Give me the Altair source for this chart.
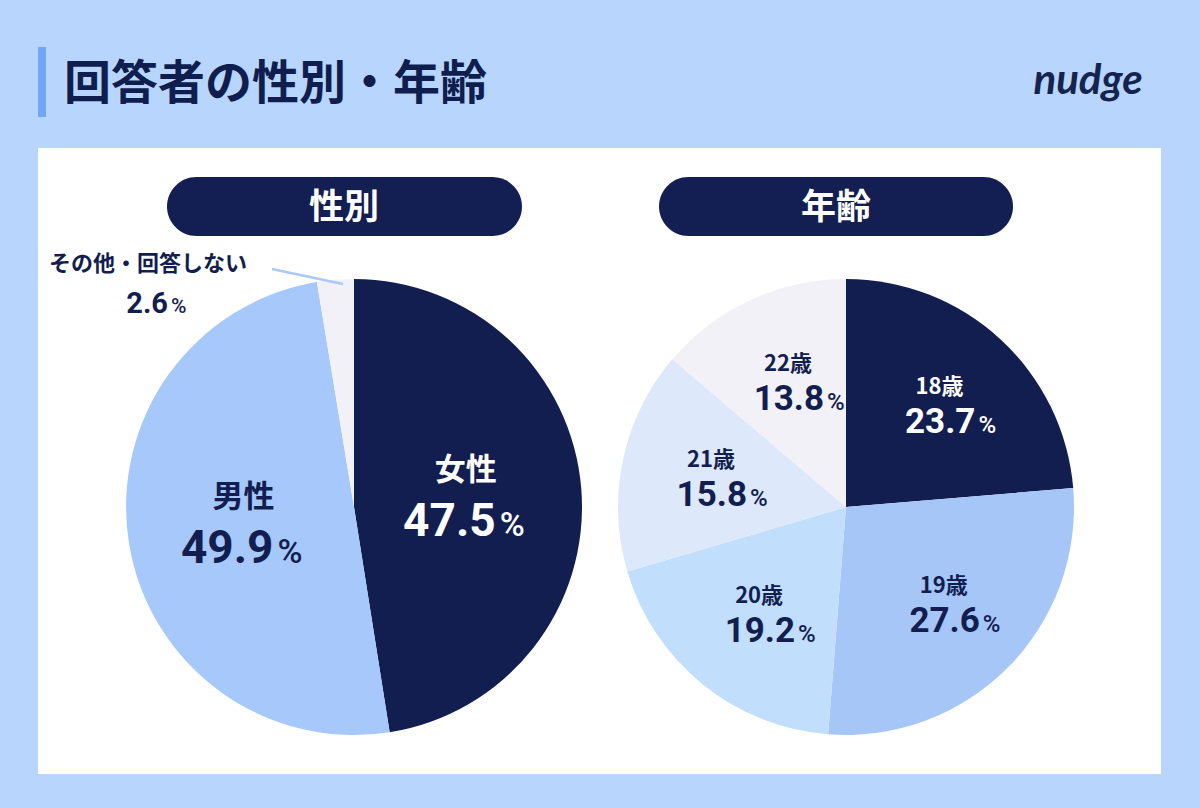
import altair as alt
import pandas as pd

# ---------------- data ----------------
title_text = "回答者の性別・年齢"
panel_titles = ["性別", "年齢"]
logo_text = "nudge"

gender_labels = ["女性", "男性", "その他・回答しない"]
gender_values = [47.5, 49.9, 2.6]
gender_colors = ["#121e50", "#a7c8fb", "#f3f1f8"]

age_labels = ["18歳", "19歳", "20歳", "21歳", "22歳"]
age_values = [23.7, 27.6, 19.2, 15.8, 13.8]
age_colors = ["#121e50", "#a6c6f8", "#c1defd", "#dde8fb", "#f3f1f8"]

# ---------------- styles ----------------
BG = "#b8d6fd"
NAVY = "#121e50"
CJK = "Noto Sans CJK JP"
NUMF = "Roboto"


def frame(labels, values, inner_mask):
    df = pd.DataFrame({"label": labels, "value": values})
    df["order"] = list(range(len(df)))
    df["iname"] = [l if m else "" for l, m in zip(labels, inner_mask)]
    df["inum"] = [f"{v:.1f}" if m else "" for v, m in zip(values, inner_mask)]
    df["ipct"] = ["%" if m else "" for m in inner_mask]
    df["num"] = [f"{v:.1f}" for v in values]
    return df


gdf = frame(gender_labels, gender_values, [True, True, False])
adf = frame(age_labels, age_values, [True] * len(age_labels))

one = alt.Data(values=[{}])


def pie(df, colors, cx, cy, r, label_r, name_size, num_size, pct_size,
        name_dy, num_dy, num_dx, pct_dx):
    base = alt.Chart(df).encode(
        theta=alt.Theta("value:Q", stack=True),
        order=alt.Order("order:Q", sort="ascending"),
        detail=alt.Detail("label:N"),
        x=alt.value(cx),
        y=alt.value(cy),
    )
    arcs = base.mark_arc(outerRadius=r).encode(
        color=alt.Color("label:N",
                        scale=alt.Scale(domain=list(df["label"]), range=colors),
                        legend=None, sort=None)
    )
    tcol = alt.condition("datum.order == 0", alt.value("#ffffff"), alt.value(NAVY))
    names = base.mark_text(radius=label_r, dy=name_dy, font=CJK, fontWeight="bold",
                           fontSize=name_size, baseline="middle", align="center").encode(
        text="iname:N", color=tcol)
    nums = base.mark_text(radius=label_r, dy=num_dy, dx=num_dx, font=NUMF, fontWeight="bold",
                          fontSize=num_size, baseline="alphabetic", align="right").encode(
        text="inum:N", color=tcol)
    pcts = base.mark_text(radius=label_r, dy=num_dy, dx=pct_dx, font=NUMF, fontWeight=500,
                          fontSize=pct_size, baseline="alphabetic", align="left").encode(
        text="ipct:N", color=tcol)
    return [arcs, names, nums, pcts]


# ---------------- decorations ----------------
panel = alt.Chart(one).mark_rect(color="#ffffff").encode(
    x=alt.value(38), x2=alt.value(1161), y=alt.value(148), y2=alt.value(774))
bar = alt.Chart(one).mark_rect(color="#6fa6f6").encode(
    x=alt.value(38), x2=alt.value(46), y=alt.value(47), y2=alt.value(117))
title = alt.Chart(one).mark_text(font=CJK, fontWeight="bold", fontSize=47, color="#0f1e4e",
                                 align="left", baseline="middle").encode(
    x=alt.value(64), y=alt.value(85), text=alt.value(title_text))
logo = alt.Chart(one).mark_text(font="Lato", fontStyle="italic", fontWeight="bold", fontSize=42,
                                color="#15244f", align="center", baseline="alphabetic").encode(
    x=alt.value(1088), y=alt.value(94), text=alt.value(logo_text))

pill_l = alt.Chart(one).mark_rect(color="#131f52", cornerRadius=29.5).encode(
    x=alt.value(167), x2=alt.value(522), y=alt.value(177), y2=alt.value(236))
pill_r = alt.Chart(one).mark_rect(color="#131f52", cornerRadius=29.5).encode(
    x=alt.value(659), x2=alt.value(1013), y=alt.value(177), y2=alt.value(236))
pill_tl = alt.Chart(one).mark_text(font=CJK, fontWeight="bold", fontSize=35, color="#ffffff",
                                   align="center", baseline="middle").encode(
    x=alt.value(344), y=alt.value(208), text=alt.value(panel_titles[0]))
pill_tr = alt.Chart(one).mark_text(font=CJK, fontWeight="bold", fontSize=35, color="#ffffff",
                                   align="center", baseline="middle").encode(
    x=alt.value(836), y=alt.value(208), text=alt.value(panel_titles[1]))

# outside label for the small gender slice
other = alt.Chart(gdf).transform_filter("datum.order == 2")
other_name = other.mark_text(font=CJK, fontWeight="bold", fontSize=22, color=NAVY,
                             align="left", baseline="middle").encode(
    x=alt.value(49), y=alt.value(264), text="label:N")
other_num = other.mark_text(font=NUMF, fontWeight="bold", fontSize=29, color=NAVY,
                            align="right", baseline="alphabetic").encode(
    x=alt.value(168), y=alt.value(313), text="num:N")
other_pct = other.mark_text(font=NUMF, fontWeight=500, fontSize=21, color=NAVY,
                            align="left", baseline="alphabetic").encode(
    x=alt.value(171), y=alt.value(313), text=alt.value("%"))
leader = alt.Chart(one).mark_rule(color="#a9c9f7", strokeWidth=2.5).encode(
    x=alt.value(272), x2=alt.value(343), y=alt.value(269), y2=alt.value(284))

gender_layer = alt.layer(
    *pie(gdf, gender_colors, 354, 507, 228, 112, 31, 46, 34, -27, 38, 30, 34),
    other_name, other_num, other_pct, leader,
)
age_layer = alt.layer(
    *pie(adf, age_colors, 846, 507, 228, 138, 22, 35, 24, -18, 28, 36, 39),
)

chart = alt.layer(
    panel, bar, title, logo, pill_l, pill_r, pill_tl, pill_tr,
    gender_layer, age_layer,
).resolve_scale(theta="independent", color="independent").properties(
    width=1200, height=808, background=BG, padding=0, autosize="none",
).configure_view(stroke=None)

chart.save("out.html", embed_options={"renderer": "svg", "actions": False})
